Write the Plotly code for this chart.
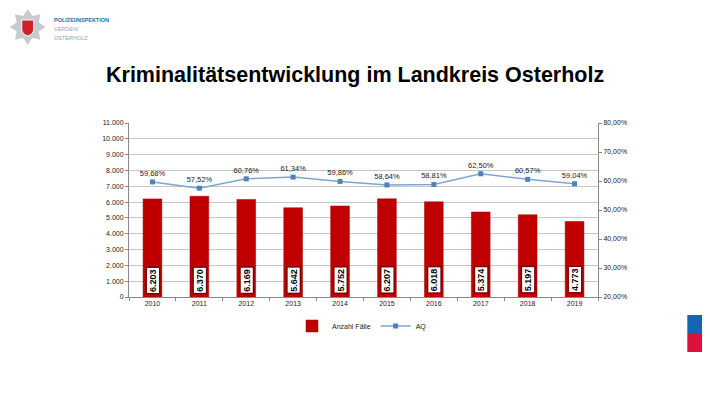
import math
import plotly.graph_objects as go

years = ["2010", "2011", "2012", "2013", "2014", "2015", "2016", "2017", "2018", "2019"]
faelle = [6203, 6370, 6169, 5642, 5752, 6207, 6018, 5374, 5197, 4773]
aq = [59.68, 57.52, 60.76, 61.34, 59.86, 58.64, 58.81, 62.50, 60.57, 59.04]

OFF = 8  # page body margin
W, H = 710 - OFF, 398 - OFF
L, R, T, B = 128.5 - OFF, 598.5 - OFF, 123 - OFF, 297 - OFF


def px(x):
    return (x - OFF - L) / (R - L)


def py(y):
    return (B - (y - OFF)) / (B - T)


def de_int(v):
    return f"{v:,}".replace(",", ".")


def de_pct(v):
    return f"{v:.2f}".replace(".", ",") + "%"


fig = go.Figure()
fig.add_trace(go.Bar(
    x=years, y=faelle, name="Anzahl Fälle",
    marker=dict(color="#C00000", line=dict(color="#A00000", width=0.5)),
    width=0.4, yaxis="y",
))
fig.add_trace(go.Scatter(
    x=years, y=aq, name="AQ", yaxis="y2", mode="lines+markers+text",
    line=dict(color="#7DA7D3", width=1.5),
    marker=dict(symbol="square", size=5, color="#4F81BD"),
    text=[de_pct(v) for v in aq], textposition="top center",
    textfont=dict(family="Arial", size=7.5, color="#222"),
))

annotations = []
for i, v in enumerate(faelle):
    annotations.append(dict(
        x=i, y=0, xref="x", yref="y", text="<b>" + de_int(v) + "</b>",
        textangle=-90, showarrow=False, yanchor="bottom", yshift=3,
        font=dict(family="Arial", size=9, color="#000"),
        bgcolor="#FFFFFF", bordercolor="#7A0000", borderwidth=1.5, borderpad=1,
    ))

# Title
annotations.append(dict(
    x=px(355), y=py(75), xref="paper", yref="paper",
    text="<b>Kriminalitätsentwicklung im Landkreis Osterholz</b>",
    showarrow=False, font=dict(family="Arial", size=21.5, color="#000"),
    xanchor="center", yanchor="middle",
))
# Logo text
for i, (t, c) in enumerate([("<b>POLIZEIINSPEKTION</b>", "#1F6FA8"),
                             ("VERDEN/", "#9AA0A6"), ("OSTERHOLZ", "#9AA0A6")]):
    annotations.append(dict(
        x=px(51), y=py(20 + i * 9), xref="paper", yref="paper", text=t,
        showarrow=False, font=dict(family="Arial", size=5.5, color=c),
        xanchor="left", yanchor="middle",
    ))

shapes = []
# star logo
cx, cy, ro, ri = 27, 27, 18, 12
pts = []
n = 8
for k in range(2 * n):
    r = ro if k % 2 == 0 else ri
    a = math.pi * k / n - math.pi / 2
    pts.append((px(cx + r * math.cos(a)), py(cy + r * math.sin(a))))
path = "M " + " L ".join(f"{x:.5f},{y:.5f}" for x, y in pts) + " Z"
shapes.append(dict(type="path", xref="paper", yref="paper", path=path,
                   fillcolor="#C8CCD0", line=dict(width=0)))
shapes.append(dict(type="path", xref="paper", yref="paper",
                   path=(f"M {px(21)},{py(20)} L {px(33)},{py(20)} L {px(33)},{py(29)} "
                         f"Q {px(33)},{py(34)} {px(27)},{py(36)} Q {px(21)},{py(34)} {px(21)},{py(29)} Z"),
                   fillcolor="#D0202A", line=dict(color="#FFFFFF", width=1)))
# right side squares
shapes.append(dict(type="rect", xref="paper", yref="paper",
                   x0=px(688), x1=px(712), y0=py(315), y1=py(333),
                   fillcolor="#1565B5", line=dict(width=0)))
shapes.append(dict(type="rect", xref="paper", yref="paper",
                   x0=px(688), x1=px(712), y0=py(333), y1=py(352),
                   fillcolor="#E0103E", line=dict(width=0)))

fig.update_layout(
    width=W, height=H,
    margin=dict(l=L, r=W - R, t=T, b=H - B, pad=0, autoexpand=False),
    paper_bgcolor="#FFFFFF", plot_bgcolor="#FFFFFF",
    separators=",.",
    font=dict(family="Arial", size=7, color="#222"),
    xaxis=dict(type="category", range=[-0.5, 9.5], showline=True, linecolor="#888", linewidth=1,
               ticks="outside", tickson="boundaries", ticklen=3, tickcolor="#888",
               tickfont=dict(size=7, color="#222"), showgrid=False, automargin=False,
               tickangle=0),
    yaxis=dict(range=[0, 11000], dtick=1000, tickformat=",.0f",
               showline=True, linecolor="#888", ticks="outside", ticklen=3,
               tickcolor="#888", gridcolor="#C6C6C6", gridwidth=1, automargin=False,
               tickfont=dict(size=7, color="#222"), zeroline=False),
    yaxis2=dict(range=[20, 80], dtick=10, overlaying="y", side="right",
                tickformat=".2f", ticksuffix="%", showline=True, linecolor="#888",
                ticks="outside", ticklen=3, tickcolor="#888", showgrid=False,
                automargin=False,
                tickfont=dict(size=7, color="#222"), zeroline=False),
    showlegend=True,
    legend=dict(orientation="h", x=px(362), xanchor="center", y=py(326),
                yanchor="middle", font=dict(size=7, color="#222"),
                bgcolor="rgba(0,0,0,0)", itemwidth=30, tracegroupgap=0),
    annotations=annotations, shapes=shapes, bargap=0.6,
)

fig.write_html("out.html")
